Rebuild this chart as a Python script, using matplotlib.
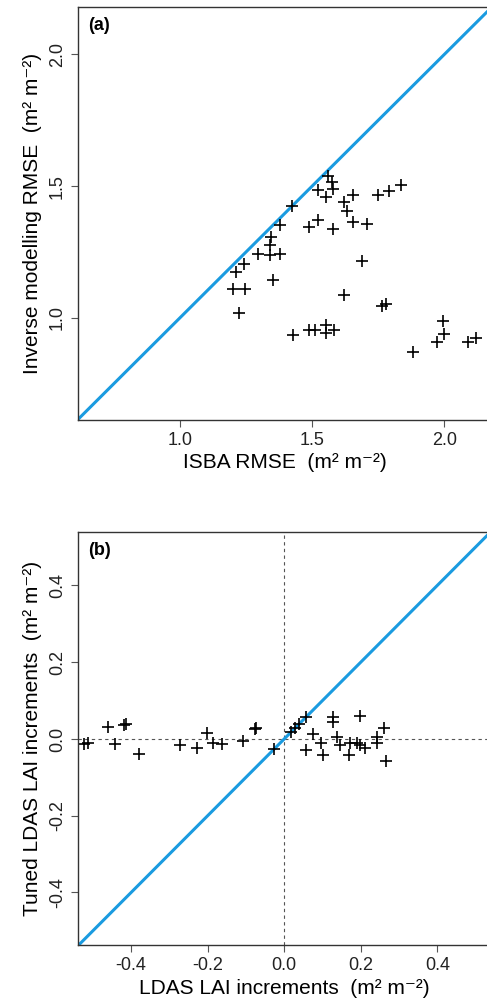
import matplotlib
matplotlib.use("Agg")
from matplotlib import pyplot as plt

plt.rcParams['font.family'] = ['Liberation Sans', 'DejaVu Sans']

# (a) ISBA RMSE vs inverse modelling RMSE
isba_rmse = [1.561, 1.576, 1.521, 1.580, 1.551, 1.656, 1.619, 1.633, 1.425, 1.653,
             1.521, 1.488, 1.578, 1.378, 1.344, 1.341, 1.294, 1.341, 1.378, 1.243,
             1.211, 1.353, 1.199, 1.246, 1.622, 1.223, 1.426, 1.489, 1.511, 1.551,
             1.551, 1.583, 1.709, 1.748, 1.792, 1.835, 1.689, 1.763, 1.778, 1.996,
             2.000, 1.971, 2.091, 2.120, 1.880]
inv_rmse = [1.539, 1.516, 1.485, 1.491, 1.459, 1.466, 1.438, 1.406, 1.424, 1.362,
            1.372, 1.344, 1.337, 1.352, 1.307, 1.276, 1.244, 1.238, 1.241, 1.206,
            1.174, 1.144, 1.108, 1.108, 1.086, 1.020, 0.933, 0.952, 0.952, 0.971,
            0.944, 0.952, 1.356, 1.466, 1.482, 1.504, 1.214, 1.045, 1.054, 0.989,
            0.937, 0.908, 0.908, 0.925, 0.870]

# (b) LDAS LAI increments vs tuned increments
ldas_inc = [-0.522, -0.512, -0.461, -0.418, -0.414, -0.441, -0.380, -0.271, -0.227,
            -0.201, -0.186, -0.162, -0.108, -0.077, -0.073, -0.027, 0.019, 0.027,
            0.039, 0.056, 0.074, 0.058, 0.097, 0.101, 0.128, 0.128, 0.139, 0.145,
            0.169, 0.171, 0.190, 0.199, 0.199, 0.210, 0.243, 0.243, 0.261, 0.265]
tuned_inc = [-0.013, -0.011, 0.032, 0.037, 0.040, -0.013, -0.040, -0.015, -0.023,
             0.015, -0.011, -0.013, -0.006, 0.025, 0.028, -0.026, 0.019, 0.028,
             0.039, 0.058, 0.013, -0.029, -0.010, -0.042, 0.058, 0.045, 0.006, -0.016,
             -0.042, -0.011, -0.010, 0.060, -0.016, -0.024, 0.006, -0.011, 0.029, -0.057]

blue = '#1a9be0'
unit = ' (m\u00b2 m\u207b\u00b2)'

fig = plt.figure(figsize=(4.87, 10.06), dpi=100)
ax1 = fig.add_axes([0.160, 0.5825, 0.850, 0.4105])
ax2 = fig.add_axes([0.160, 0.0606, 0.848, 0.4105])

def style(ax):
    for s in ['left', 'top', 'bottom', 'right']:
        ax.spines[s].set_color('#333333')
        ax.spines[s].set_linewidth(1.0)
    ax.tick_params(direction='out', length=5, width=0.8, color='#555555',
                   labelsize=13, labelcolor='#222222')
    for lab in ax.get_yticklabels():
        lab.set_rotation(90)
        lab.set_va('center')

# panel (a)
ax1.axline((0, 0), slope=1, color=blue, lw=2.2, zorder=1)
ax1.plot(isba_rmse, inv_rmse, '+', color='black', ms=8, mew=1.2, zorder=2)
ax1.set_xlim(0.614, 2.18)
ax1.set_ylim(0.612, 2.18)
ax1.set_xticks([1.0, 1.5, 2.0])
ax1.set_yticks([1.0, 1.5, 2.0])
ax1.set_xticklabels(['1.0', '1.5', '2.0'])
ax1.set_yticklabels(['1.0', '1.5', '2.0'])
style(ax1)
ax1.set_xlabel('ISBA RMSE ' + unit, fontsize=15, labelpad=3)
ax1.set_ylabel('Inverse modelling RMSE ' + unit, fontsize=15, labelpad=5)
ax1.text(0.025, 0.975, '(a)', transform=ax1.transAxes, fontsize=13,
         fontweight='bold', va='top', ha='left')

# panel (b)
ax2.axhline(0, color='#555555', lw=0.8, ls=(0, (3, 3)), zorder=0)
ax2.axvline(0, color='#555555', lw=0.8, ls=(0, (3, 3)), zorder=0)
ax2.axline((0, 0), slope=1, color=blue, lw=2.2, zorder=1)
ax2.plot(ldas_inc, tuned_inc, '+', color='black', ms=8, mew=1.2, zorder=2)
ax2.set_xlim(-0.539, 0.54)
ax2.set_ylim(-0.537, 0.539)
ticks = [-0.4, -0.2, 0.0, 0.2, 0.4]
ax2.set_xticks(ticks)
ax2.set_yticks(ticks)
ax2.set_xticklabels(['-0.4', '-0.2', '0.0', '0.2', '0.4'])
ax2.set_yticklabels(['-0.4', '-0.2', '0.0', '0.2', '0.4'])
style(ax2)
ax2.set_xlabel('LDAS LAI increments ' + unit, fontsize=15, labelpad=4)
ax2.set_ylabel('Tuned LDAS LAI increments ' + unit, fontsize=15, labelpad=5)
ax2.text(0.025, 0.975, '(b)', transform=ax2.transAxes, fontsize=13,
         fontweight='bold', va='top', ha='left')

fig.savefig('out.png', dpi=100)
